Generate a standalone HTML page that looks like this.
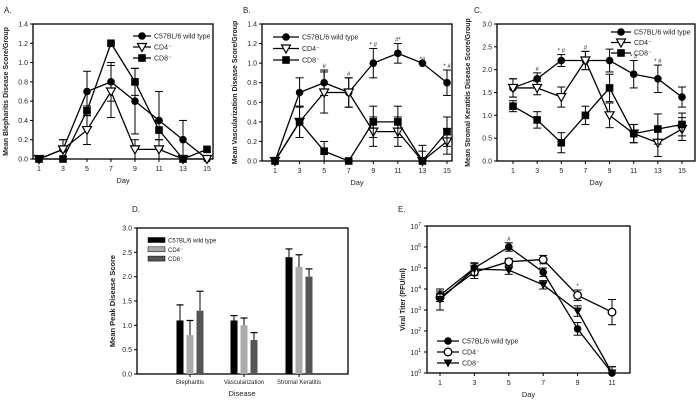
<!DOCTYPE html>
<html><head><meta charset="utf-8"><style>
body{margin:0;background:#fff;}
svg{display:block;font-family:"Liberation Sans",sans-serif;}
</style></head><body>
<svg id="fig" width="696" height="402" viewBox="0 0 696 402"></svg>
<script>
const days=[1,3,5,7,9,11,13,15];
const seriesNames=["C57BL/6 wild type","CD4\u207B","CD8\u207B"];
// Panel A
const aWT=[0,0.1,0.7,0.8,0.6,0.4,0.2,0];
const aCD4=[0,0.1,0.3,0.7,0.1,0.1,0,0];
const aCD8=[0,0,0.5,1.2,0.8,0.3,0,0.1];
const aErrWT=[0,0.1,0.21,0.2,0.34,0.3,0.2,0];
const aErrCD4=[0,0.1,0.15,0.27,0.1,0.1,0,0];
const aErrCD8=[0,0,0.05,0.0,0.14,0.1,0,0];
// Panel B
const bWT=[0,0.7,0.8,0.7,1.0,1.1,1.0,0.8];
const bCD4=[0,0.4,0.7,0.7,0.3,0.3,0,0.2];
const bCD8=[0,0.4,0.1,0,0.4,0.4,0,0.3];
const bErrWT=[0,0.15,0.13,0.15,0.15,0.1,0,0.13];
const bErrCD4=[0,0.16,0.21,0.15,0.15,0.15,0.1,0.13];
const bErrCD8=[0,0.16,0.1,0,0.16,0.16,0.16,0.15];
const bSig=[[2,'#'],[3,'#'],[4,'* #'],[5,'#*'],[6,'*#'],[7,'* #']];
// Panel C
const cWT=[1.6,1.8,2.2,2.2,2.2,1.9,1.8,1.4];
const cCD4=[1.6,1.6,1.4,2.2,1.0,0.6,0.4,0.7];
const cCD8=[1.2,0.9,0.4,1.0,1.6,0.6,0.7,0.8];
const cErrWT=[0.2,0.13,0.13,0.2,0.25,0.3,0.3,0.22];
const cErrCD4=[0.2,0.15,0.22,0.2,0.27,0.2,0.3,0.25];
const cErrCD8=[0.12,0.18,0.22,0.2,0.3,0.2,0.33,0.25];
const cSig=[[1,'#'],[2,'* #'],[3,'#'],[5,'* #'],[6,'* #']];
// Panel D
const dCats=["Blepharitis","Vascularization","Stromal Keratitis"];
const dWT=[1.1,1.1,2.4];
const dCD4=[0.8,1.0,2.2];
const dCD8=[1.3,0.7,2.0];
const dErrWT=[0.32,0.1,0.17];
const dErrCD4=[0.3,0.15,0.25];
const dErrCD8=[0.4,0.15,0.16];
// Panel E (log10 titers)
const eDays=[1,3,5,7,9,11];
const eWT=[3.7,5.0,6.0,4.8,2.1,0];
const eCD4=[3.6,4.8,5.3,5.4,3.7,2.9];
const eCD8=[3.5,4.95,4.9,4.2,2.95,0];
const eErrWT=[0.2,0.2,0.2,0.2,0.3,0.3];
const eErrCD4=[0.2,0.3,0.15,0.2,0.25,0.6];
const eErrCD8=[0.5,0.3,0.2,0.2,0.25,0.3];
const eSig=[[2,'#']];
const eSigCD4=[[4,'*']];
const yTicksA=[0,0.2,0.4,0.6,0.8,1.0,1.2,1.4];
const yTicksC=[0,0.5,1.0,1.5,2.0,2.5,3.0];
const eTickExp=[0,1,2,3,4,5,6,7];

const NS="http://www.w3.org/2000/svg";
const svg=document.getElementById('fig');
function mk(tag,attrs,parent,text){const e=document.createElementNS(NS,tag);for(const k in attrs)e.setAttribute(k,attrs[k]);if(text!==undefined)e.textContent=text;(parent||svg).appendChild(e);return e;}

function marker(g,kind,x,y){
  let m;
  if(kind===0)m=mk('circle',{cx:x,cy:y,r:3.8,fill:'#000'},g);
  else if(kind===1)m=mk('path',{d:`M${x-4.5},${y-3.5}L${x+4.5},${y-3.5}L${x},${y+4.5}Z`,fill:'#fff',stroke:'#000','stroke-width':1.2},g);
  else if(kind===2)m=mk('rect',{x:x-3.8,y:y-3.8,width:7.6,height:7.6,fill:'#000'},g);
  else if(kind===3)m=mk('circle',{cx:x,cy:y,r:3.8,fill:'#fff',stroke:'#000','stroke-width':1.3},g);
  else m=mk('path',{d:`M${x-4.5},${y-3.5}L${x+4.5},${y-3.5}L${x},${y+4.5}Z`,fill:'#000'},g);
  
  
}

function linePanel(p){
  const g=mk('g',{});
  
  
  const X=d=>p.x0+(d-p.dmin)*(p.x1-p.x0)/(p.dmax-p.dmin);
  const Y=v=>p.b-(v-p.vmin)*(p.b-p.t)/(p.vmax-p.vmin);
  mk('rect',{x:p.l,y:p.t,width:p.r-p.l,height:p.b-p.t,fill:'none',stroke:'#000','stroke-width':1.3},g);
  p.yt.forEach((v,i)=>{const y=Y(v);mk('line',{x1:p.l-3,x2:p.l,y1:y,y2:y,stroke:'#000'},g);
    if(p.log){const t=mk('text',{x:p.l-6,y:y+3,'text-anchor':'end','font-size':7,fill:'#222'},g,'10');mk('tspan',{dy:-3,'font-size':5},t,String(v));}
    else mk('text',{x:p.l-5,y:y+2.5,'text-anchor':'end','font-size':7,fill:'#222'},g,p.fmt(v));});
  p.xt.forEach(d=>{const x=X(d);mk('line',{x1:x,x2:x,y1:p.b,y2:p.b+3,stroke:'#000'},g);
    mk('text',{x:x,y:p.b+12,'text-anchor':'middle','font-size':7,fill:'#222'},g,String(d));});
  const xt=mk('text',{x:(p.l+p.r)/2,y:p.b+24,'text-anchor':'middle','font-size':7.5,fill:'#222'},g,'Day');
  
  const cy=(p.t+p.b)/2;
  const yt=mk('text',{x:p.ytx,y:cy,'text-anchor':'middle','font-size':7,'font-weight':'bold',fill:'#222',transform:`rotate(-90 ${p.ytx} ${cy})`},g,p.ytitle);
  
  p.series.forEach((s,si)=>{
    const pts=s.v.map((v,i)=>[X(p.days[i]),Y(v)]);
    mk('polyline',{points:pts.map(q=>q.join(',')).join(' '),fill:'none',stroke:'#000','stroke-width':1.3},g);
    s.v.forEach((v,i)=>{const e=s.e[i];if(e>0){const x=X(p.days[i]);
      const y1=Y(Math.max(p.vmin,v-e)),y2=Y(v+e);
      mk('line',{x1:x,x2:x,y1:y1,y2:y2,stroke:'#000','stroke-width':1},g);
      mk('line',{x1:x-4,x2:x+4,y1:y2,y2:y2,stroke:'#000','stroke-width':1},g);
      if(v-e>p.vmin)mk('line',{x1:x-4,x2:x+4,y1:y1,y2:y1,stroke:'#000','stroke-width':1},g);}});
    pts.forEach(q=>marker(g,s.m,q[0],q[1]));
    (s.sig||[]).forEach(sg=>{const i=sg[0];
      const t=mk('text',{x:X(p.days[i]),y:Y(s.v[i]+s.e[i])-2,'font-size':6,fill:'#222','text-anchor':'middle'},g,sg[1]);
      });
  });
  p.series.forEach((s,si)=>{
    const lg=mk('g',{},g);
    
    const y=p.ly+si*p.lsp;
    mk('line',{x1:p.lx,x2:p.lx+p.lw,y1:y,y2:y,stroke:'#000','stroke-width':1.3},lg);
    marker(lg,s.m,p.lx+p.lw/2,y);
    mk('text',{x:p.lx+p.lw+3,y:y+2.5,'font-size':7,fill:'#222'},lg,seriesNames[si]);
  });
  const lab=mk('text',{x:p.labx,y:p.laby,'font-size':8,fill:'#222'},g,p.label);
  
}

linePanel({name:'panel-a-blepharitis',label:'A.',labx:4,laby:13,l:33,r:213,t:24,b:159,x0:39,x1:207,dmin:1,dmax:15,vmin:0,vmax:1.4,
  days:days,xt:days,yt:yTicksA,fmt:v=>v.toFixed(1),ytx:8,ytitle:'Mean Blepharitis Disease Score/Group',
  series:[{v:aWT,e:aErrWT,m:0},{v:aCD4,e:aErrCD4,m:1},{v:aCD8,e:aErrCD8,m:2}],lx:133,lw:18,ly:36,lsp:11});
linePanel({name:'panel-b-vascularization',label:'B.',labx:243,laby:13,l:262,r:452,t:24,b:161,x0:275,x1:447,dmin:1,dmax:15,vmin:0,vmax:1.4,
  days:days,xt:days,yt:yTicksA,fmt:v=>v.toFixed(1),ytx:237,ytitle:'Mean Vascularization Disease Score/Group',
  series:[{v:bWT,e:bErrWT,m:0,sig:bSig},{v:bCD4,e:bErrCD4,m:1},{v:bCD8,e:bErrCD8,m:2}],lx:273,lw:26,ly:37,lsp:11.5});
linePanel({name:'panel-c-stromal-keratitis',label:'C.',labx:474,laby:13,l:497,r:695,t:24,b:161,x0:513,x1:682,dmin:1,dmax:15,vmin:0,vmax:3,
  days:days,xt:days,yt:yTicksC,fmt:v=>v.toFixed(1),ytx:470,ytitle:'Mean Stromal Keratitis Disease Score/Group',
  series:[{v:cWT,e:cErrWT,m:0,sig:cSig},{v:cCD4,e:cErrCD4,m:1},{v:cCD8,e:cErrCD8,m:2}],lx:611,lw:20,ly:32,lsp:10.5});
linePanel({name:'panel-e-viral-titer',label:'E.',labx:398,laby:212,l:427,r:630,t:226,b:373,x0:440,x1:612,dmin:1,dmax:11,vmin:0,vmax:7,log:true,
  days:eDays,xt:eDays,yt:eTickExp,fmt:v=>v,ytx:405,ytitle:'Viral Titer (PFU/ml)',
  series:[{v:eWT,e:eErrWT,m:0,sig:eSig},{v:eCD4,e:eErrCD4,m:3,sig:eSigCD4},{v:eCD8,e:eErrCD8,m:4}],lx:437,lw:22,ly:341,lsp:11});

// Panel D bar chart
(function(){
  const g=mk('g',{});
  
  
  const l=137,r=348,t=228,b=374;
  const Y=v=>b-v*(b-t)/3;
  const centers=[190,244,299];
  const cols=['#000','#aaa','#555'];
  const vals=[dWT,dCD4,dCD8],errs=[dErrWT,dErrCD4,dErrCD8];
  mk('rect',{x:l,y:t,width:r-l,height:b-t,fill:'none',stroke:'#000','stroke-width':1.3},g);
  yTicksC.forEach(v=>{const y=Y(v);mk('line',{x1:l-3,x2:l,y1:y,y2:y,stroke:'#000'},g);
    mk('text',{x:l-5,y:y+2.5,'text-anchor':'end','font-size':7,fill:'#222'},g,v.toFixed(1));});
  dCats.forEach((c,ci)=>{const cx=centers[ci];
    mk('line',{x1:cx,x2:cx,y1:b,y2:b+3,stroke:'#000'},g);
    const tl=mk('text',{x:cx,y:b+10,'text-anchor':'middle','font-size':6,fill:'#222'},g,c);
    
    vals.forEach((arr,si)=>{const x=cx+(si-1)*10-3.5,v=arr[ci],e=errs[si][ci];
      const rect=mk('rect',{x:x,y:Y(v),width:7,height:b-Y(v),fill:cols[si]},g);
      
      mk('line',{x1:x+3.5,x2:x+3.5,y1:Y(v),y2:Y(v+e),stroke:'#000'},g);
      mk('line',{x1:x,x2:x+7,y1:Y(v+e),y2:Y(v+e),stroke:'#000','stroke-width':1.2},g);});
  });
  seriesNames.forEach((n,si)=>{const lg=mk('g',{},g);
    
    const y=240+si*9.3;
    mk('rect',{x:148,y:y-2.5,width:17,height:5,fill:cols[si],stroke:'#000','stroke-width':0.5},lg);
    mk('text',{x:168,y:y+2.5,'font-size':6,fill:'#222'},lg,n);});
  const yt=mk('text',{x:115,y:301,'text-anchor':'middle','font-size':7.5,'font-weight':'bold',fill:'#222',transform:'rotate(-90 115 301)'},g,'Mean Peak Disease Score');
  
  const xt=mk('text',{x:242,y:396,'text-anchor':'middle','font-size':7.5,fill:'#222'},g,'Disease');
  
  const lab=mk('text',{x:132,y:212,'font-size':8,fill:'#222'},g,'D.');
  
})();
</script>
</body></html>
